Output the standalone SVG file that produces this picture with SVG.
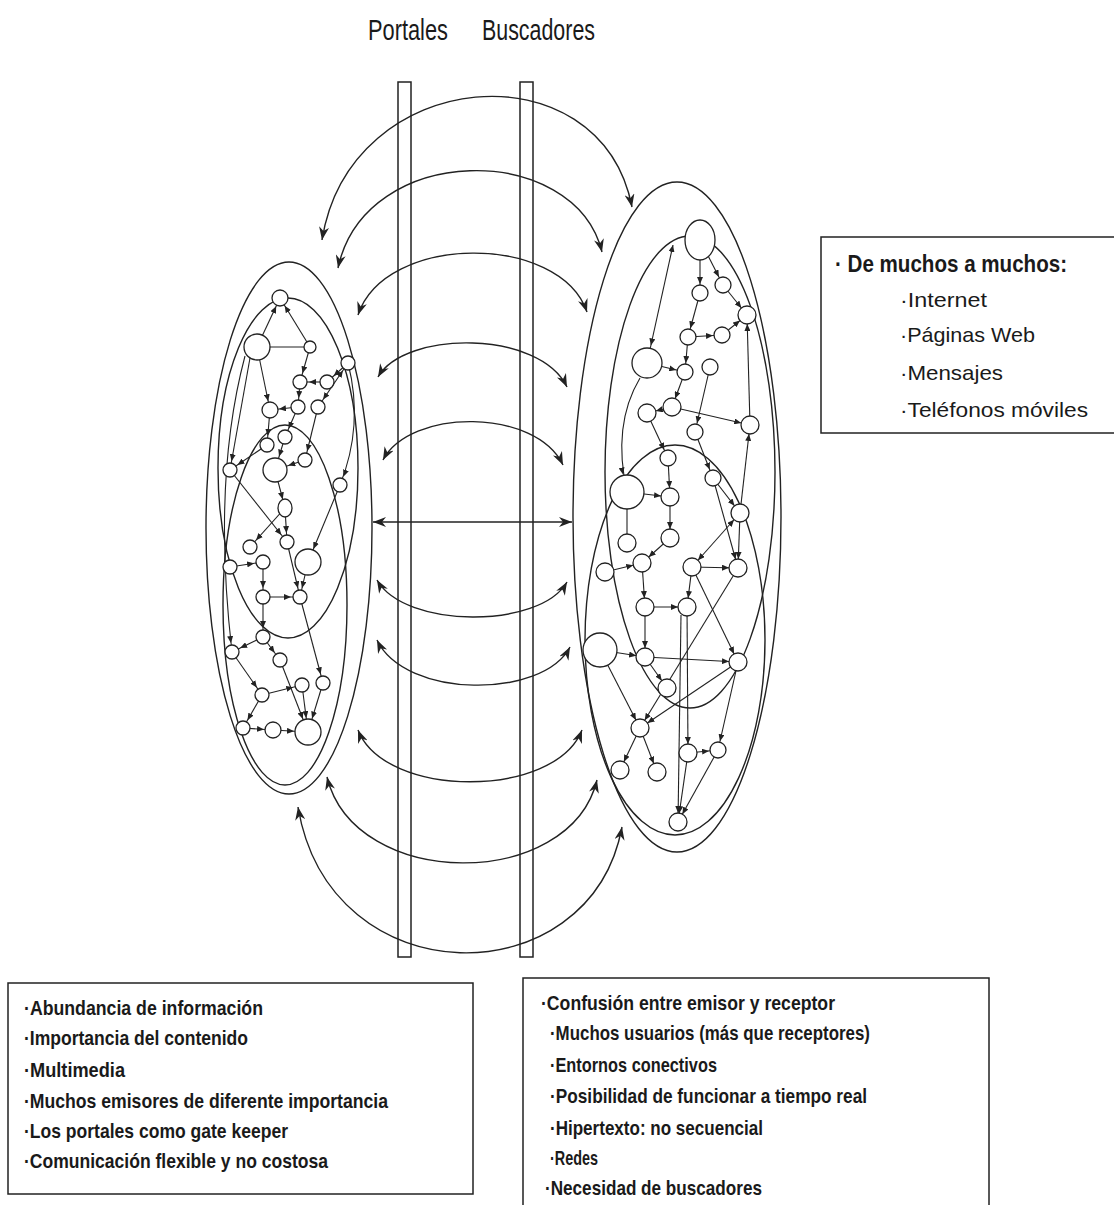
<svg xmlns="http://www.w3.org/2000/svg" width="1114" height="1205" viewBox="0 0 1114 1205">
<style>
.t{font-family:"Liberation Sans Narrow","Liberation Sans",Arial,sans-serif;fill:#1a1a1a}
.hd{font-size:30px}
.tt{font-size:24px;font-weight:bold}
.si{font-size:21px}
.bx{font-size:21px;font-weight:bold}
.box{fill:none;stroke:#222;stroke-width:1.5}
.bar{fill:none;stroke:#222;stroke-width:1.5}
.cl{fill:none;stroke:#222;stroke-width:1.4}
.arc{fill:none;stroke:#222;stroke-width:1.4;marker-start:url(#big);marker-end:url(#big)}
.e{fill:none;stroke:#222;stroke-width:1.1;marker-end:url(#m8)}
.e13{marker-end:url(#m13)}
.e17{marker-end:url(#m17)}
.p{marker-end:none}
.d{marker-start:url(#m8)}
.node circle,.node ellipse{fill:#fff;stroke:#222;stroke-width:1.3}
</style>
<defs>
<marker id="big" viewBox="0 0 13 10" refX="13" refY="5" markerWidth="13" markerHeight="10" markerUnits="userSpaceOnUse" orient="auto-start-reverse"><path d="M0,0 L13,5 L0,10 L4,5 z" fill="#222"/></marker>
<marker id="m8" viewBox="0 0 7 6" refX="16" refY="3" markerWidth="7" markerHeight="6" markerUnits="userSpaceOnUse" orient="auto-start-reverse"><path d="M0,0 L7,3 L0,6 z" fill="#222"/></marker>
<marker id="m13" viewBox="0 0 7 6" refX="21" refY="3" markerWidth="7" markerHeight="6" markerUnits="userSpaceOnUse" orient="auto-start-reverse"><path d="M0,0 L7,3 L0,6 z" fill="#222"/></marker>
<marker id="m17" viewBox="0 0 7 6" refX="25" refY="3" markerWidth="7" markerHeight="6" markerUnits="userSpaceOnUse" orient="auto-start-reverse"><path d="M0,0 L7,3 L0,6 z" fill="#222"/></marker>
<marker id="m0" viewBox="0 0 7 6" refX="7" refY="3" markerWidth="7" markerHeight="6" markerUnits="userSpaceOnUse" orient="auto-start-reverse"><path d="M0,0 L7,3 L0,6 z" fill="#222"/></marker>
</defs>
<rect width="1114" height="1205" fill="#fff"/>

<g id="headers">
<text class="t hd" x="368" y="40" textLength="80" lengthAdjust="spacingAndGlyphs">Portales</text>
<text class="t hd" x="482" y="40" textLength="113" lengthAdjust="spacingAndGlyphs">Buscadores</text>
</g>

<g id="clusterLeft">
<ellipse class="cl" cx="289" cy="528" rx="83" ry="266"/>
<ellipse class="cl" cx="288" cy="468" rx="70" ry="170"/>
<ellipse class="cl" cx="285" cy="605" rx="62" ry="180"/>
</g>
<g id="clusterRight">
<ellipse class="cl" cx="677" cy="517" rx="104" ry="335"/>
<ellipse class="cl" cx="690" cy="472" rx="85" ry="236"/>
<ellipse class="cl" cx="675" cy="640" rx="90" ry="195"/>
</g>

<g id="connectors">
<path class="arc" d="M322,240 C350,65 600,45 632,207"/>
<path class="arc" d="M338,268 C365,141 575,141 602,252"/>
<path class="arc" d="M358,315 C385,233 560,233 587,312"/>
<path class="arc" d="M378,377 C405,330 540,330 567,387"/>
<path class="arc" d="M383,460 C410,408 536,408 563,465"/>
<path class="arc" d="M373,522 L572,522"/>
<path class="arc" d="M377,580 C405,629 540,629 567,582"/>
<path class="arc" d="M377,640 C405,699 543,699 570,647"/>
<path class="arc" d="M358,730 C385,799 555,799 582,730"/>
<path class="arc" d="M327,777 C355,891 570,891 597,780"/>
<path class="arc" d="M298,807 C330,998 590,998 622,827"/>

<line class="e" x1="257" y1="347" x2="280" y2="298"/>
<line class="e" x1="310" y1="347" x2="280" y2="298"/>
<line class="e p" x1="257" y1="347" x2="310" y2="347"/>
<line class="e" x1="310" y1="347" x2="300" y2="382"/>
<line class="e" x1="327" y1="382" x2="300" y2="382"/>
<line class="e" x1="348" y1="363" x2="327" y2="382"/>
<line class="e" x1="257" y1="347" x2="270" y2="410"/>
<line class="e" x1="300" y1="382" x2="298" y2="407"/>
<line class="e" x1="298" y1="407" x2="270" y2="410"/>
<line class="e" x1="298" y1="407" x2="285" y2="437"/>
<line class="e" x1="318" y1="407" x2="305" y2="460"/>
<line class="e" x1="270" y1="410" x2="267" y2="445"/>
<line class="e e13" x1="285" y1="437" x2="275" y2="470"/>
<line class="e" x1="267" y1="445" x2="230" y2="470"/>
<line class="e e13" x1="305" y1="460" x2="275" y2="470"/>
<path class="e" d="M348,363 Q364,425 340,485"/>
<line class="e e13" x1="340" y1="485" x2="308" y2="562"/>
<line class="e" x1="275" y1="470" x2="285" y2="508"/>
<line class="e" x1="285" y1="508" x2="287" y2="542"/>
<line class="e" x1="230" y1="470" x2="287" y2="542"/>
<line class="e" x1="285" y1="508" x2="250" y2="547"/>
<line class="e" x1="230" y1="567" x2="263" y2="562"/>
<line class="e" x1="287" y1="542" x2="300" y2="597"/>
<line class="e" x1="263" y1="562" x2="263" y2="597"/>
<line class="e" x1="263" y1="597" x2="300" y2="597"/>
<line class="e" x1="308" y1="562" x2="300" y2="597"/>
<line class="e" x1="263" y1="597" x2="263" y2="637"/>
<line class="e" x1="263" y1="637" x2="232" y2="652"/>
<line class="e" x1="263" y1="637" x2="280" y2="660"/>
<line class="e" x1="232" y1="652" x2="262" y2="695"/>
<line class="e e13" x1="280" y1="660" x2="308" y2="732"/>
<line class="e" x1="300" y1="597" x2="323" y2="683"/>
<line class="e e13" x1="302" y1="685" x2="308" y2="732"/>
<line class="e e13" x1="323" y1="683" x2="308" y2="732"/>
<line class="e" x1="243" y1="728" x2="273" y2="730"/>
<line class="e e13" x1="273" y1="730" x2="308" y2="732"/>
<line class="e" x1="262" y1="695" x2="243" y2="728"/>
<line class="e" x1="250" y1="358" x2="230" y2="470"/>
<path class="e" d="M245,356 Q212,480 232,652"/>
<line class="e d" x1="348" y1="363" x2="318" y2="407"/>
<line class="e" x1="262" y1="695" x2="302" y2="685"/>

<line class="e" x1="700" y1="240" x2="700" y2="293"/>
<line class="e" x1="700" y1="240" x2="723" y2="285"/>
<line class="e" x1="700" y1="293" x2="688" y2="337"/>
<line class="e" x1="723" y1="285" x2="747" y2="315"/>
<line class="e" x1="688" y1="337" x2="722" y2="335"/>
<line class="e" x1="722" y1="335" x2="747" y2="315"/>
<line class="e" x1="647" y1="363" x2="685" y2="372"/>
<line class="e" x1="688" y1="337" x2="685" y2="372"/>
<line class="e" x1="685" y1="372" x2="672" y2="407"/>
<line class="e" x1="672" y1="407" x2="647" y2="413"/>
<line class="e" x1="672" y1="407" x2="750" y2="425"/>
<line class="e" x1="750" y1="425" x2="747" y2="315"/>
<path class="e" d="M673,245 L647,363" style="marker-start:url(#m0);marker-end:url(#m17)"/>
<path class="e e17" d="M640,378 Q612,425 627,492"/>
<line class="e" x1="647" y1="413" x2="668" y2="458"/>
<line class="e" x1="695" y1="432" x2="713" y2="478"/>
<line class="e" x1="710" y1="367" x2="695" y2="432"/>
<line class="e" x1="627" y1="492" x2="670" y2="497"/>
<line class="e p" x1="627" y1="492" x2="627" y2="543"/>
<line class="e" x1="670" y1="497" x2="670" y2="538"/>
<line class="e" x1="668" y1="458" x2="670" y2="497"/>
<line class="e" x1="670" y1="538" x2="642" y2="563"/>
<line class="e" x1="605" y1="572" x2="642" y2="563"/>
<line class="e" x1="642" y1="563" x2="645" y2="607"/>
<line class="e" x1="645" y1="607" x2="687" y2="607"/>
<line class="e" x1="692" y1="567" x2="687" y2="607"/>
<line class="e" x1="692" y1="567" x2="738" y2="568"/>
<line class="e" x1="740" y1="513" x2="738" y2="568"/>
<line class="e d" x1="740" y1="513" x2="692" y2="567"/>
<line class="e" x1="600" y1="650" x2="645" y2="657"/>
<line class="e" x1="645" y1="657" x2="667" y2="688"/>
<line class="e" x1="645" y1="607" x2="645" y2="657"/>
<line class="e" x1="681" y1="615" x2="678" y2="822"/>
<line class="e" x1="692" y1="567" x2="738" y2="662"/>
<line class="e" x1="738" y1="568" x2="640" y2="728"/>
<line class="e" x1="738" y1="662" x2="640" y2="728"/>
<line class="e" x1="645" y1="657" x2="738" y2="662"/>
<line class="e" x1="600" y1="650" x2="640" y2="728"/>
<line class="e" x1="640" y1="728" x2="620" y2="770"/>
<line class="e" x1="640" y1="728" x2="657" y2="772"/>
<line class="e" x1="688" y1="753" x2="718" y2="750"/>
<line class="e" x1="688" y1="753" x2="678" y2="822"/>
<line class="e" x1="718" y1="750" x2="678" y2="822"/>
<line class="e" x1="738" y1="662" x2="718" y2="750"/>
<line class="e" x1="713" y1="478" x2="738" y2="568"/>
<line class="e" x1="687" y1="607" x2="688" y2="753"/>
<line class="e" x1="740" y1="513" x2="750" y2="425"/>
<line class="e" x1="713" y1="478" x2="740" y2="513"/>
</g>

<g id="bars">
<rect class="bar" x="398" y="82" width="13" height="875"/>
<rect class="bar" x="520" y="82" width="13" height="875"/>
</g>

<g id="L1" class="node"><circle cx="280" cy="298" r="8"/></g>
<g id="L2" class="node"><circle cx="257" cy="347" r="13"/></g>
<g id="L3" class="node"><circle cx="310" cy="347" r="6"/></g>
<g id="L4" class="node"><circle cx="348" cy="363" r="7"/></g>
<g id="L5" class="node"><circle cx="300" cy="382" r="7"/></g>
<g id="L6" class="node"><circle cx="327" cy="382" r="7"/></g>
<g id="L7" class="node"><circle cx="270" cy="410" r="8"/></g>
<g id="L8" class="node"><circle cx="298" cy="407" r="7"/></g>
<g id="L9" class="node"><circle cx="318" cy="407" r="7"/></g>
<g id="L10" class="node"><circle cx="285" cy="437" r="7"/></g>
<g id="L11" class="node"><circle cx="267" cy="445" r="7"/></g>
<g id="L12" class="node"><circle cx="305" cy="460" r="7"/></g>
<g id="L13" class="node"><circle cx="275" cy="470" r="12"/></g>
<g id="L14" class="node"><circle cx="230" cy="470" r="7"/></g>
<g id="L15" class="node"><circle cx="340" cy="485" r="7"/></g>
<g id="L16" class="node"><ellipse cx="285" cy="508" rx="7" ry="9"/></g>
<g id="L17" class="node"><circle cx="287" cy="542" r="7"/></g>
<g id="L18" class="node"><circle cx="250" cy="547" r="7"/></g>
<g id="L19" class="node"><circle cx="263" cy="562" r="7"/></g>
<g id="L20" class="node"><circle cx="230" cy="567" r="7"/></g>
<g id="L21" class="node"><circle cx="308" cy="562" r="13"/></g>
<g id="L22" class="node"><circle cx="263" cy="597" r="7"/></g>
<g id="L23" class="node"><circle cx="300" cy="597" r="7"/></g>
<g id="L24" class="node"><circle cx="263" cy="637" r="7"/></g>
<g id="L25" class="node"><circle cx="232" cy="652" r="7"/></g>
<g id="L26" class="node"><circle cx="280" cy="660" r="7"/></g>
<g id="L27" class="node"><circle cx="262" cy="695" r="7"/></g>
<g id="L28" class="node"><circle cx="302" cy="685" r="7"/></g>
<g id="L29" class="node"><circle cx="323" cy="683" r="7"/></g>
<g id="L30" class="node"><circle cx="243" cy="728" r="7"/></g>
<g id="L31" class="node"><circle cx="273" cy="730" r="8"/></g>
<g id="L32" class="node"><circle cx="308" cy="732" r="13"/></g>

<g id="R1" class="node"><ellipse cx="700" cy="240" rx="15" ry="20"/></g>
<g id="R2" class="node"><circle cx="700" cy="293" r="8"/></g>
<g id="R3" class="node"><circle cx="723" cy="285" r="8"/></g>
<g id="R4" class="node"><circle cx="747" cy="315" r="9"/></g>
<g id="R5" class="node"><circle cx="688" cy="337" r="8"/></g>
<g id="R6" class="node"><circle cx="722" cy="335" r="8"/></g>
<g id="R7" class="node"><circle cx="647" cy="363" r="15"/></g>
<g id="R8" class="node"><circle cx="685" cy="372" r="8"/></g>
<g id="R9" class="node"><circle cx="710" cy="367" r="8"/></g>
<g id="R10" class="node"><circle cx="647" cy="413" r="9"/></g>
<g id="R11" class="node"><circle cx="672" cy="407" r="9"/></g>
<g id="R12" class="node"><circle cx="750" cy="425" r="9"/></g>
<g id="R13" class="node"><circle cx="695" cy="432" r="8"/></g>
<g id="R14" class="node"><circle cx="668" cy="458" r="8"/></g>
<g id="R15" class="node"><circle cx="713" cy="478" r="8"/></g>
<g id="R16" class="node"><circle cx="627" cy="492" r="17"/></g>
<g id="R17" class="node"><circle cx="670" cy="497" r="9"/></g>
<g id="R18" class="node"><circle cx="740" cy="513" r="9"/></g>
<g id="R19" class="node"><circle cx="627" cy="543" r="9"/></g>
<g id="R20" class="node"><circle cx="670" cy="538" r="9"/></g>
<g id="R21" class="node"><circle cx="605" cy="572" r="9"/></g>
<g id="R22" class="node"><circle cx="642" cy="563" r="9"/></g>
<g id="R23" class="node"><circle cx="692" cy="567" r="9"/></g>
<g id="R24" class="node"><circle cx="738" cy="568" r="9"/></g>
<g id="R25" class="node"><circle cx="645" cy="607" r="9"/></g>
<g id="R26" class="node"><circle cx="687" cy="607" r="9"/></g>
<g id="R27" class="node"><circle cx="600" cy="650" r="17"/></g>
<g id="R28" class="node"><circle cx="645" cy="657" r="9"/></g>
<g id="R29" class="node"><circle cx="738" cy="662" r="9"/></g>
<g id="R30" class="node"><circle cx="667" cy="688" r="9"/></g>
<g id="R31" class="node"><circle cx="640" cy="728" r="9"/></g>
<g id="R32" class="node"><circle cx="688" cy="753" r="9"/></g>
<g id="R33" class="node"><circle cx="718" cy="750" r="8"/></g>
<g id="R34" class="node"><circle cx="620" cy="770" r="9"/></g>
<g id="R35" class="node"><circle cx="657" cy="772" r="9"/></g>
<g id="R36" class="node"><circle cx="678" cy="822" r="9"/></g>

<g id="boxManyToMany">
<rect class="box" x="821" y="237" width="300" height="196"/>
<text class="t tt" x="835" y="272" textLength="232" lengthAdjust="spacingAndGlyphs">· De muchos a muchos:</text>
<text class="t si" x="900" y="307" textLength="87" lengthAdjust="spacingAndGlyphs">·Internet</text>
<text class="t si" x="900" y="342" textLength="135" lengthAdjust="spacingAndGlyphs">·Páginas Web</text>
<text class="t si" x="900" y="380" textLength="103" lengthAdjust="spacingAndGlyphs">·Mensajes</text>
<text class="t si" x="900" y="417" textLength="188" lengthAdjust="spacingAndGlyphs">·Teléfonos móviles</text>
</g>

<g id="boxPortales">
<rect class="box" x="8" y="983" width="465" height="211"/>
<text class="t bx" x="24" y="1015" textLength="239" lengthAdjust="spacingAndGlyphs">·Abundancia de información</text>
<text class="t bx" x="24" y="1045" textLength="224" lengthAdjust="spacingAndGlyphs">·Importancia del contenido</text>
<text class="t bx" x="24" y="1077" textLength="101" lengthAdjust="spacingAndGlyphs">·Multimedia</text>
<text class="t bx" x="24" y="1108" textLength="364" lengthAdjust="spacingAndGlyphs">·Muchos emisores de diferente importancia</text>
<text class="t bx" x="24" y="1138" textLength="264" lengthAdjust="spacingAndGlyphs">·Los portales como gate keeper</text>
<text class="t bx" x="24" y="1168" textLength="304" lengthAdjust="spacingAndGlyphs">·Comunicación flexible y no costosa</text>
</g>

<g id="boxBuscadores">
<rect class="box" x="523" y="978" width="466" height="240"/>
<text class="t bx" x="541" y="1010" textLength="294" lengthAdjust="spacingAndGlyphs">·Confusión entre emisor y receptor</text>
<text class="t bx" x="550" y="1040" textLength="320" lengthAdjust="spacingAndGlyphs">·Muchos usuarios (más que receptores)</text>
<text class="t bx" x="550" y="1072" textLength="167" lengthAdjust="spacingAndGlyphs">·Entornos conectivos</text>
<text class="t bx" x="550" y="1103" textLength="317" lengthAdjust="spacingAndGlyphs">·Posibilidad de funcionar a tiempo real</text>
<text class="t bx" x="550" y="1135" textLength="213" lengthAdjust="spacingAndGlyphs">·Hipertexto: no secuencial</text>
<text class="t bx" x="550" y="1165" textLength="48" lengthAdjust="spacingAndGlyphs">·Redes</text>
<text class="t bx" x="545" y="1195" textLength="217" lengthAdjust="spacingAndGlyphs">·Necesidad de buscadores</text>
</g>
</svg>
